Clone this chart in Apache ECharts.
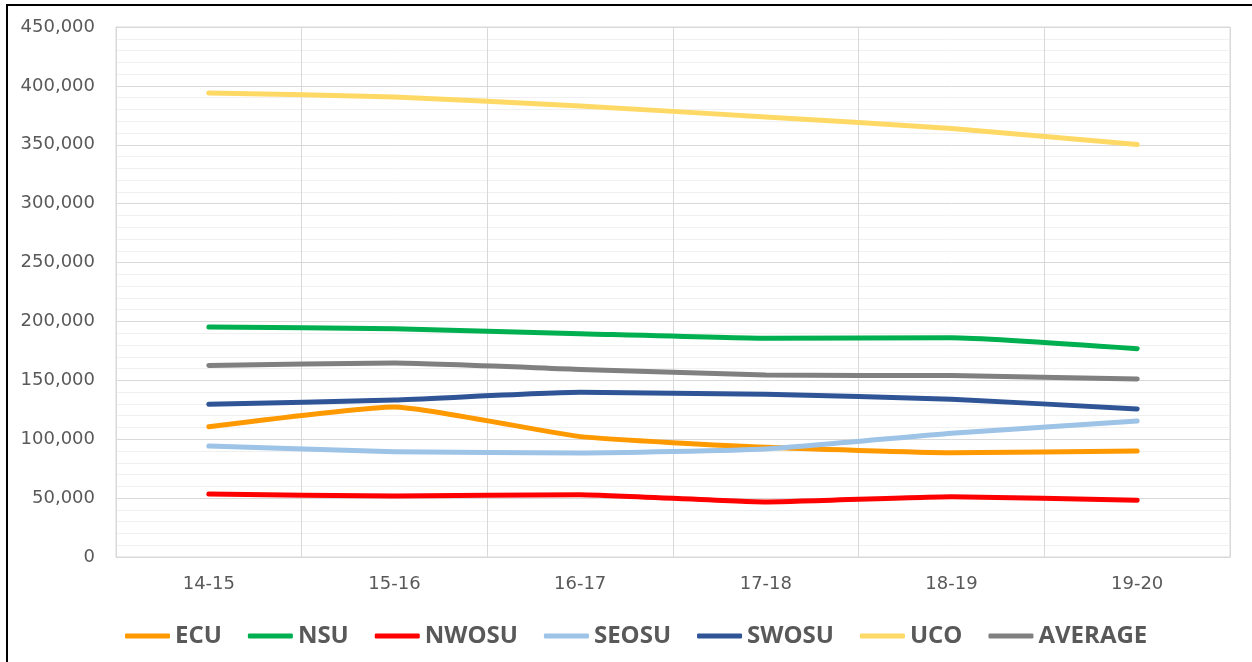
<!DOCTYPE html>
<html>
<head>
<meta charset="utf-8">
<script src="https://cdn.jsdelivr.net/npm/echarts@6/dist/echarts.min.js"></script>
<style>
html,body{margin:0;padding:0;background:#fff;}
#chart{width:1252px;height:662px;}
</style>
</head>
<body>
<div id="chart"></div>
<script>
const categories = ['14-15','15-16','16-17','17-18','18-19','19-20'];
const ECU     = [110600, 127400, 102200, 93100, 88600, 90000];
const NSU     = [195300, 193800, 189600, 185700, 186200, 176900];
const NWOSU   = [53500, 51800, 52900, 46700, 51200, 48100];
const SEOSU   = [94200, 89400, 88300, 91700, 105000, 115500];
const SWOSU   = [129600, 133300, 139800, 138100, 133900, 125700];
const UCO     = [394000, 390600, 383000, 373600, 363800, 350300];
const AVERAGE = [162700, 164700, 159300, 154500, 154000, 151100];

const seriesNames = ['ECU','NSU','NWOSU','SEOSU','SWOSU','UCO','AVERAGE'];
const seriesData = [ECU, NSU, NWOSU, SEOSU, SWOSU, UCO, AVERAGE];
const colors = ['#FF9900','#00B050','#FF0000','#9DC3E6','#2F5597','#FFD966','#808080'];

const chart = echarts.init(document.getElementById('chart'));
chart.setOption({
  animation: false,
  color: colors,
  graphic: [
    {type:'line', shape:{x1:7,y1:5,x2:1252,y2:5}, style:{stroke:'#000',lineWidth:2}},
    {type:'line', shape:{x1:7,y1:4,x2:7,y2:662}, style:{stroke:'#000',lineWidth:2}}
  ],
  grid: {left:116, right:22, top:27, bottom:105, containLabel:false,
         show:true, borderColor:'#D9D9D9', borderWidth:1},
  legend: {
    data: seriesNames,
    left: 120, top: 619,
    itemWidth: 45, itemHeight: 5, itemGap: 26,
    icon: 'roundRect',
    textStyle: {fontFamily:'Open Sans', fontWeight:'bold', fontSize:24, color:'#595959'}
  },
  xAxis: {
    type: 'category',
    data: categories,
    boundaryGap: true,
    axisLine: {show:true, lineStyle:{color:'#D9D9D9', width:1}},
    axisTick: {show:false},
    splitLine: {show:true, lineStyle:{color:'#D9D9D9', width:1}},
    axisLabel: {fontFamily:'DejaVu Sans', fontSize:18, color:'#595959', margin:18}
  },
  yAxis: {
    type: 'value',
    min: 0, max: 450000, interval: 50000,
    axisLine: {show:true, lineStyle:{color:'#D9D9D9', width:1}},
    axisTick: {show:false},
    splitLine: {show:true, lineStyle:{color:'#D9D9D9', width:1}},
    minorTick: {show:false, splitNumber:5},
    minorSplitLine: {show:true, lineStyle:{color:'#F0F0F0', width:1}},
    axisLabel: {fontFamily:'DejaVu Sans', fontSize:18, color:'#595959', margin:21,
      formatter: v => v.toLocaleString('en-US')}
  },
  series: seriesNames.map((n,i) => ({
    name: n,
    type: 'line',
    data: seriesData[i],
    smooth: 0.15,
    symbol: 'none',
    lineStyle: {width:5, color:colors[i], cap:'round', join:'round'},
    z: 10 - 0
  }))
});
</script>
</body>
</html>
